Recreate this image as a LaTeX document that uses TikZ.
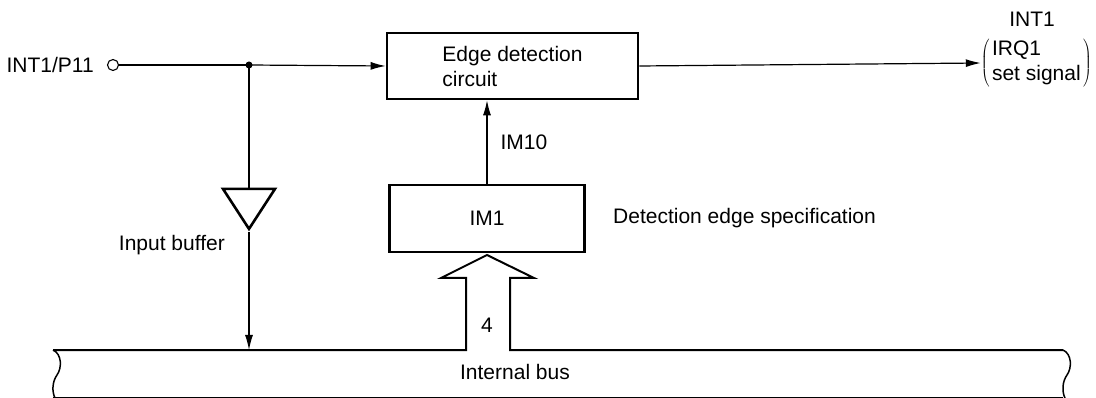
\documentclass[tikz,border=0pt]{standalone}
\usepackage{fontspec}
\setmainfont{Liberation Sans}
\usetikzlibrary{arrows.meta,positioning,shapes.geometric}
\tikzset{
  txt/.style={font=\fontsize{21}{25}\selectfont, inner sep=0pt},
  block/.style={draw, line width=2.6pt, minimum height=66pt, inner sep=0pt,
                align=left, font=\fontsize{21}{25}\selectfont},
  buffer/.style={draw, isosceles triangle, shape border rotate=270, line width=2.6pt,
                 isosceles triangle stretches, minimum width=52pt, minimum height=40pt, inner sep=0pt},
  pinmark/.style={draw, circle, line width=1.1pt, minimum size=11pt, inner sep=0pt},
  sig/.style={line width=1.2pt},
  flow/.style={sig, -{Latex[length=15pt,width=8pt]}},
  bus/.style={line width=2pt, line join=miter},
}

\begin{document}
\begin{tikzpicture}[x=1pt, y=-1pt]
  \useasboundingbox (0,0) rectangle (1096,398);
  % input pin and branch point
  \node[pinmark] (pin) at (113,65) {};
  \node[txt, left=13pt of pin] (pinname) {INT1/P11};
  \coordinate (split) at (249,65);
  % blocks
  \node[block, minimum width=251pt] (edge) at (512.5,66) {Edge detection\\circuit};
  \node[block, minimum width=195pt, minimum height=67pt] (im) at (487,218.5) {IM1};
  \node[buffer] (buf) at (249,203) {};
  % output
  \node[txt, anchor=east] (setsig) at (1092,63) {$\left(\mkern2mu\begin{tabular}{@{}l@{}}IRQ1\\set signal\end{tabular}\mkern2mu\right)$};
  \node[txt] (intname) at (1032,19) {INT1};
  % labels
  \node[txt, anchor=east] (buflbl) at (225,245) {Input buffer};
  \node[txt, anchor=west] (spec) at (613,218) {Detection edge specification};
  \node[txt] (busname) at (515,372) {Internal bus};
  \node[txt] (width) at (487,325) {4};
  \coordinate (tap) at (249,350);
  % connectors
  \draw[sig] (pin) -- (split);
  \draw[flow] (split) -- (edge.west);
  \fill (split) circle (3.5pt);
  \draw[sig] (split) -- (buf.north);
  \draw[flow] (buf.south) -- (tap);
  \draw[flow] (im.north) -- node[txt, right=13pt]{IM10} (im.north |- edge.south);
  \draw[flow] (edge.east) -- (setsig.west);
  % internal bus with the 4-bit wide arrow
  \draw[bus] (53,350) -- (466,350) -- (466,278) -- (441,278) -- (487,255)
    -- (534,278) -- (510,278) -- (510,350) -- (1063,350);
  \draw[bus] (53,398) -- (1063,398);
  \draw[line width=1.5pt] (53,350) .. controls (62,354) and (62,368) .. (57,375)
    .. controls (52,382) and (52,392) .. (55,398);
  \draw[line width=1.5pt] (1063,350) .. controls (1072,354) and (1072,368) .. (1067,375)
    .. controls (1062,382) and (1062,392) .. (1065,398);
\end{tikzpicture}
\end{document}
